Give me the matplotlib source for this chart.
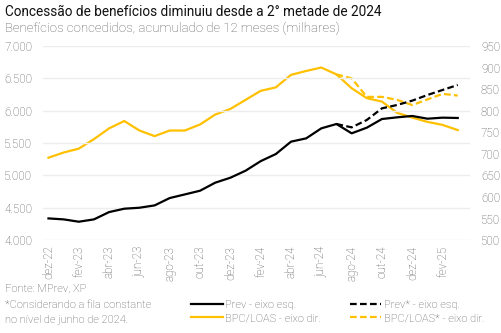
import matplotlib
matplotlib.use("Agg")
import matplotlib.pyplot as plt
from matplotlib.lines import Line2D
import numpy as np

plt.rcParams['font.family'] = ['Roboto', 'DejaVu Sans']
plt.rcParams['font.weight'] = 'light'

# Monthly data, dez-22 to mar-25
months = ["dez-22", "jan-23", "fev-23", "mar-23", "abr-23", "mai-23", "jun-23", "jul-23",
          "ago-23", "set-23", "out-23", "nov-23", "dez-23", "jan-24", "fev-24", "mar-24",
          "abr-24", "mai-24", "jun-24", "jul-24", "ago-24", "set-24", "out-24", "nov-24",
          "dez-24", "jan-25", "fev-25", "mar-25"]

prev = [4335, 4320, 4284, 4320, 4433, 4485, 4500, 4536, 4650, 4706, 4763, 4887, 4964, 5072,
        5220, 5330, 5521, 5572, 5727, 5794, 5650, 5737, 5871, 5897, 5918, 5876, 5892, 5887]
# Prev* starts in jul-24
prev_star = [5794, 5742, 5856, 6036, 6088, 6155, 6242, 6320, 6397]

bpc = [691, 703, 712, 734, 759, 776, 754, 741, 754, 754, 768, 791, 804, 825,
       846, 854, 883, 892, 900, 884, 852, 829, 821, 795, 784, 774, 767, 755]
bpc_star = [884, 875, 832, 832, 825, 813, 826, 839, 835]

star_start = months.index("jul-24")

black = "#000000"
yellow = "#FFC000"
gray = "#595959"

fig = plt.figure(figsize=(5.02, 3.33), dpi=100)
ax = fig.add_axes([0.086, 0.279, 0.85, 0.583])
ax2 = ax.twinx()

x = np.arange(len(months))
xs = np.arange(star_start, star_start + len(prev_star))

ax.plot(x, prev, color=black, lw=1.6, zorder=3)
ax.plot(xs, prev_star, color=black, lw=1.6, ls=(0, (3, 1.5)), zorder=3)
ax2.plot(x, bpc, color=yellow, lw=1.6)
ax2.plot(xs, bpc_star, color=yellow, lw=1.6, ls=(0, (3, 1.5)))

ax.set_ylim(4000, 7000)
ax2.set_ylim(500, 950)
ax.set_xlim(-0.35, 27.8)
ax.set_yticks(np.arange(4000, 7001, 500))
ax2.set_yticks(np.arange(500, 951, 50))
ax.set_yticklabels([f"{v:,}".replace(",", ".") for v in range(4000, 7001, 500)])
ax.set_xticks(x[::2])
ax.set_xticklabels(months[::2], rotation=90)

ax.grid(axis="y", color="#EDEDED", lw=1)
ax.set_axisbelow(True)
for a in (ax, ax2):
    for s in a.spines.values():
        s.set_visible(False)
    a.tick_params(length=0, labelsize=8.4, colors=gray, pad=4)
ax.tick_params(axis="y", pad=8)
ax2.tick_params(axis="y", pad=8)
ax.set_zorder(ax2.get_zorder() + 1)
ax.patch.set_visible(False)

fig.text(0.01, 0.965, "Concessão de benefícios diminuiu desde a 2° metade de 2024",
         fontsize=9.8, color="#111111", va="center", fontweight="normal")
fig.text(0.01, 0.915, "Benefícios concedidos, acumulado de 12 meses (milhares)",
         fontsize=9.5, color=gray, va="center")

fig.text(0.01, 0.133, "Fonte: MPrev, XP", fontsize=8, color=gray, va="center")
fig.text(0.01, 0.085, "*Considerando a fila constante", fontsize=8, color=gray, va="center")
fig.text(0.01, 0.038, "no nível de junho de 2024.", fontsize=8, color=gray, va="center")

handles = [Line2D([], [], color=black, lw=1.6),
           Line2D([], [], color=yellow, lw=1.6),
           Line2D([], [], color=black, lw=1.6, ls=(0, (3, 1.5))),
           Line2D([], [], color=yellow, lw=1.6, ls=(0, (3, 1.5)))]
labels = ["Prev - eixo esq.", "BPC/LOAS - eixo dir.", "Prev* - eixo esq.", "BPC/LOAS* - eixo dir."]
leg = fig.legend(handles, labels, ncol=2, loc="center left", bbox_to_anchor=(0.37, 0.065),
                 frameon=False, fontsize=7.9, handlelength=2.9, handletextpad=0.2,
                 columnspacing=2.6, labelspacing=0.3, borderpad=0)
for t in leg.get_texts():
    t.set_color(gray)

fig.savefig("out.png", dpi=100)
